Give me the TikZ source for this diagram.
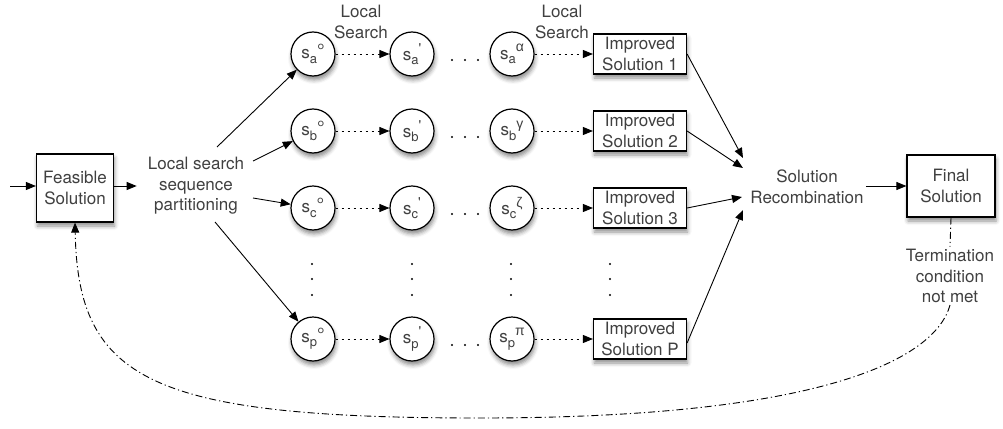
\documentclass[tikz,border=0pt]{standalone}
\usepackage{fontspec}
\setmainfont{TeX Gyre Heros}
\newfontfamily\rawfont{TeX Gyre Heros}[Ligatures=TeXOff]
\newfontfamily\greekfont{Liberation Sans}
\usetikzlibrary{arrows.meta,shadows.blur}

% state label: s with a lowered index and a raised mark
\newcommand\stlabel[2]{s\raisebox{-0.5ex}{\fontsize{13}{13}\selectfont #1}#2}
\newcommand\supmark[1]{\raisebox{0.8ex}{\fontsize{14}{14}\selectfont #1}}
\newcommand\ring{\raisebox{0.1ex}{\fontsize{19}{19}\selectfont °}}
\newcommand\prm{\supmark{\rawfont '}}
\newcommand\gk[1]{\supmark{\greekfont #1}}

\tikzset{
  x=1pt, y=-1pt,
  lbl/.style={text=black!75, font=\fontsize{17}{20.5}\selectfont, align=center, inner sep=2pt},
  soft/.style={blur shadow={shadow xshift=1pt, shadow yshift=-4pt, shadow blur radius=4pt, shadow opacity=45}},
  box/.style={lbl, draw=black, line width=1.2pt, fill=white, soft, inner sep=0pt},
  state/.style={circle, draw=black, line width=1.2pt, fill=white, soft, minimum size=44pt,
                inner sep=0pt, text=black!75, font=\fontsize{17}{18}\selectfont},
  flow/.style={-{Triangle[length=10pt,width=8pt]}, line width=0.9pt},
  search/.style={flow, dash pattern=on 2pt off 4pt},
  loopback/.style={line width=0.9pt, dash pattern=on 7pt off 3pt on 1.2pt off 3pt},
  dotmark/.style={fill=black}
}

\begin{document}
\begin{tikzpicture}
\useasboundingbox (0,0) rectangle (1003,428);

% input and partitioning
\coordinate (in) at (10,186);
\node[box, minimum width=77pt, minimum height=68pt] (fs) at (75,188) {Feasible\\Solution};
\node[lbl] (ls) at (196,186) {Local search\\sequence\\partitioning};
\draw[flow] (in) -- (in -| fs.west);
\draw[flow] (fs.east |- ls) -- ([xshift=-9pt]ls.west);

% local search chains
\foreach \r/\y/\m/\bn in {a/54/\gk{α}/1, b/131/\gk{γ}/2, c/208/\gk{ζ}/3, p/339/\gk{π}/P}{
  \node[state] (\r0) at (313,\y) {\stlabel{\r}{\ring}};
  \node[state] (\r1) at (412,\y) {\stlabel{\r}{\prm}};
  \node[state] (\r2) at (512,\y) {\stlabel{\r}{\m}};
  \node[box, minimum width=93pt, minimum height=40pt] (i\r) at (640,\y) {Improved\\Solution \bn};
  \draw[search] (\r0) -- (\r1);
  \draw[search] (\r2) -- (i\r);
  \foreach \dx in {452,465,478}
    \fill[dotmark] (\dx,\y+6) circle (1.2);
}

% elided rows
\foreach \dx in {312,412,511,610}
  \foreach \dy in {264,279,295}
    \fill[dotmark] (\dx,\dy) circle (1.2);

% fan out
\coordinate (la) at (217,147);
\coordinate (lb) at (253,161);
\coordinate (lc) at (253,198);
\coordinate (lp) at (215,222);
\draw[flow] (la) -- (a0);
\draw[flow] (lb) -- (b0);
\draw[flow] (lc) -- (c0);
\draw[flow] (lp) -- (p0);

% labels above the first row
\node[lbl] (ls1) at (361,22) {Local\\Search};
\node[lbl] (ls2) at (562,22) {Local\\Search};

% recombination
\node[lbl] (rc) at (807,187) {Solution\\Recombination};
\coordinate (ra) at (743,158);
\coordinate (rb) at (743,168);
\coordinate (rcc) at (742,197);
\coordinate (rp) at (743,210);
\draw[flow] (ia.east) -- (ra);
\draw[flow] (ib.east) -- (rb);
\draw[flow] (ic.east) -- (rcc);
\draw[flow] ([yshift=-4pt]ip.east) -- (rp);

\node[box, minimum width=88pt, minimum height=62pt] (fb) at (951,186) {Final\\Solution};
\draw[flow] (rc.east |- fb) -- (fb.west);

% loop back
\node[lbl] (tc) at (950,276) {Termination\\condition\\not met};
\draw[loopback] (fb.south) -- (tc.north);
\draw[loopback, -{Triangle[length=10pt,width=8pt]}]
  (tc.south) .. controls (935,360) and (820,418) .. (480,418)
             .. controls (150,418) and (78,380) .. (fs.south);
\end{tikzpicture}
\end{document}
